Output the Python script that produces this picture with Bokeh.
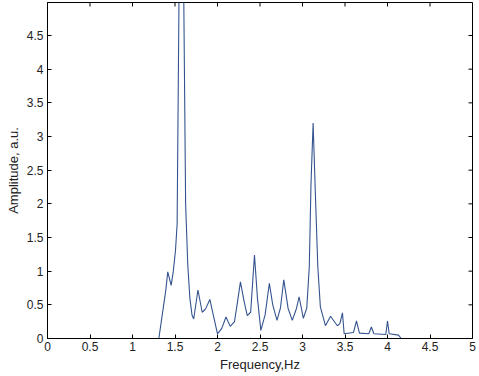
import math
from bokeh.plotting import figure
from bokeh.models import FixedTicker, Range1d
from bokeh.embed import file_html
from bokeh.resources import INLINE

# Spectrum
freq = [0.0, 1.31, 1.35, 1.39, 1.415, 1.455, 1.48, 1.506, 1.525, 1.55, 1.575,
        1.60, 1.625, 1.65, 1.675, 1.70, 1.72, 1.77, 1.82, 1.86, 1.91, 1.95,
        2.0, 2.05, 2.1, 2.15, 2.2, 2.23, 2.27, 2.31, 2.35, 2.39, 2.435, 2.47,
        2.51, 2.56, 2.61, 2.65, 2.70, 2.74, 2.78, 2.83, 2.88, 2.93, 2.96, 3.01,
        3.05, 3.08, 3.10, 3.125, 3.15, 3.18, 3.21, 3.27, 3.33, 3.41, 3.44, 3.47,
        3.49, 3.6, 3.635, 3.67, 3.78, 3.81, 3.84, 3.98, 4.0, 4.02, 4.13, 4.16, 5.0]
amp = [0.0, 0.0, 0.35, 0.7, 0.99, 0.79, 1.0, 1.31, 1.7, 5.5, 7.5,
       5.5, 2.0, 1.1, 0.6, 0.35, 0.29, 0.72, 0.39, 0.44, 0.58, 0.35,
       0.07, 0.15, 0.32, 0.18, 0.25, 0.5, 0.84, 0.57, 0.34, 0.39, 1.24, 0.6,
       0.12, 0.35, 0.82, 0.5, 0.27, 0.45, 0.87, 0.45, 0.27, 0.45, 0.62, 0.30,
       0.45, 1.07, 2.3, 3.2, 2.2, 1.07, 0.47, 0.19, 0.33, 0.19, 0.22, 0.38,
       0.07, 0.09, 0.26, 0.08, 0.07, 0.17, 0.07, 0.06, 0.26, 0.07, 0.05, 0.0, 0.0]

x_ticks = [0, 0.5, 1, 1.5, 2, 2.5, 3, 3.5, 4, 4.5, 5]
x_labels = ["0", "0.5", "1", "1.5", "2", "2.5", "3", "3.5", "4", "4.5", "5"]
y_ticks = [0, 0.5, 1, 1.5, 2, 2.5, 3, 3.5, 4, 4.5]
y_labels = ["0", "0.5", "1", "1.5", "2", "2.5", "3", "3.5", "4", "4.5"]
x_min, x_max = 0, 5
y_min, y_max = 0, 4.99

FONT = "Liberation Sans"
TXT = "#222222"

p = figure(width=479, height=376, output_backend="svg", toolbar_location=None,
           x_range=Range1d(x_min, x_max), y_range=Range1d(y_min, y_max),
           min_border_left=47, min_border_right=7, min_border_top=2,
           min_border_bottom=38)
p.background_fill_color = "white"
p.border_fill_color = "white"
p.outline_line_color = "black"
p.outline_line_width = 1
p.grid.visible = False

p.line(freq, amp, line_color="#34548f", line_width=1.1)

# inward ticks on the top and right frame edges (box style), clipped by the frame
p.scatter(x_ticks, [y_max] * len(x_ticks), marker="dash", size=8,
          angle=math.pi / 2, line_color="black", line_width=1)
p.scatter([x_max] * len(y_ticks), y_ticks, marker="dash", size=8,
          line_color="black", line_width=1)

for ax, ticks, labels in ((p.xaxis[0], x_ticks, x_labels), (p.yaxis[0], y_ticks, y_labels)):
    ax.ticker = FixedTicker(ticks=ticks)
    ax.major_label_overrides = {t: l for t, l in zip(ticks, labels)}
    ax.major_tick_in = 4
    ax.major_tick_out = 0
    ax.minor_tick_line_color = None
    ax.axis_line_color = "black"
    ax.major_tick_line_color = "black"
    ax.major_label_text_font = FONT
    ax.major_label_text_font_size = "12px"
    ax.major_label_text_color = TXT
    ax.axis_label_text_font = FONT
    ax.axis_label_text_font_size = "13px"
    ax.axis_label_text_font_style = "normal"
    ax.axis_label_text_color = TXT

p.xaxis[0].major_label_standoff = 3
p.xaxis[0].axis_label_standoff = 3
p.yaxis[0].major_label_standoff = 4
p.yaxis[0].axis_label_standoff = 3

p.xaxis[0].axis_label = "Frequency,Hz"
p.yaxis[0].axis_label = "Amplitude, a.u."

open("out.html", "w").write(file_html(p, INLINE))
